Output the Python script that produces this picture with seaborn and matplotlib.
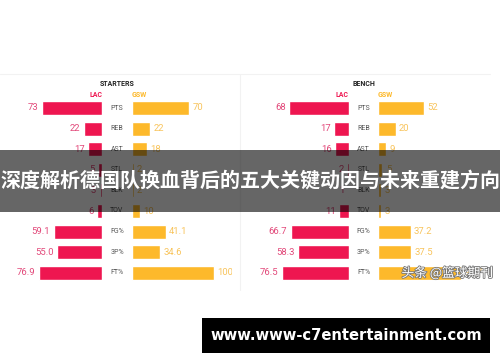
import numpy as np
import pandas as pd
import seaborn as sns
import matplotlib.pyplot as plt
import matplotlib.transforms as mtransforms
import matplotlib.patheffects as pe
from matplotlib.patches import Rectangle

# datos
stats = ["PTS", "REB", "AST", "STL", "BLK", "TOV", "FG%", "3P%", "FT%"]
starters_lac = [73, 22, 17, 5, 3, 6, 59.1, 55.0, 76.9]
starters_gsw = [70, 22, 18, 2, 2, 10, 41.1, 34.6, 100.0]
bench_lac = [68, 17, 16, 2, 1, 11, 66.7, 58.3, 76.5]
bench_gsw = [52, 20, 9, 5, 3, 3, 37.2, 37.5, 94.7]
pct_stats = ["FG%", "3P%", "FT%"]

LAC_BAR = "#EE1650"
GSW_BAR = "#FDB92B"
LAC_TXT = "#E2497A"
GSW_TXT = "#F8C45C"

sns.set_style("white")
plt.rcParams["font.family"] = ["Roboto", "DejaVu Sans"]

W, H = 500, 362
fig = plt.figure(figsize=(5, 3.62), dpi=100)
fig.patch.set_facecolor("white")


def fx(px):
    return px / W


def fy(py):
    return 1 - py / H


row_top, row_bot = 97.7, 283.1
ax_b = fy(row_bot)
ax_h = (row_bot - row_top) / H


def fmt(stat, v):
    return f"{v:.1f}" if stat in pct_stats else f"{v:.0f}"


def panel(title, lac, gsw, lac_l, lac_r, gsw_l, gsw_r, scale):
    df = pd.DataFrame({"stat": stats, "LAC": lac, "GSW": gsw})
    ax1 = fig.add_axes([fx(lac_l), ax_b, fx(lac_r - lac_l), ax_h])
    ax2 = fig.add_axes([fx(gsw_l), ax_b, fx(gsw_r - gsw_l), ax_h])
    sns.barplot(data=df, x="LAC", y="stat", color=LAC_BAR, width=0.68,
                saturation=1, ax=ax1)
    sns.barplot(data=df, x="GSW", y="stat", color=GSW_BAR, width=0.68,
                saturation=1, ax=ax2)
    ax1.set_xlim((lac_r - lac_l) / scale, 0)
    ax2.set_xlim(0, (gsw_r - gsw_l) / scale)
    for ax, vals, col in [(ax1, lac, LAC_TXT), (ax2, gsw, GSW_TXT)]:
        ax.set_ylim(len(stats) - 0.5, -0.5)
        ax.set_axis_off()
        labs = [fmt(s, v) for s, v in zip(stats, vals)]
        txts = ax.bar_label(ax.containers[0], labels=labs, padding=2.5,
                            color=col, fontsize=6.8)
        for t in txts:
            t.set_clip_on(True)
            t.set_clip_box(ax.bbox)
    # etiquetas centrales
    cx = (lac_r + gsw_l) / 2
    tr = mtransforms.blended_transform_factory(fig.transFigure, ax1.transData)
    for i, s in enumerate(stats):
        ax1.text(fx(cx), i, s, transform=tr, ha="center", va="center",
                 fontsize=5, color="#555555", clip_on=False)
    fig.text(fx(cx), fy(84), title, ha="center", va="center",
             fontsize=5, fontweight="bold", color="#222222")
    fig.text(fx(lac_r), fy(95), "LAC", ha="right", va="center",
             fontsize=5, fontweight="bold", color=LAC_BAR)
    fig.text(fx(gsw_l), fy(95), "GSW", ha="left", va="center",
             fontsize=5, fontweight="bold", color=GSW_BAR)


panel("STARTERS", starters_lac, starters_gsw, 10, 102, 132, 232, 0.82)
panel("BENCH", bench_lac, bench_gsw, 250, 349, 378, 490, 0.876)

# líneas tenues de los paneles
fig.add_artist(plt.Line2D([0, fx(490)], [fy(74), fy(74)], color="#f2f2f2",
                          lw=0.8, transform=fig.transFigure))
fig.add_artist(plt.Line2D([fx(240), fx(240)], [fy(74), fy(290)],
                          color="#f2f2f2", lw=0.8, transform=fig.transFigure))

# franja con título
fig.add_artist(Rectangle((0, fy(212)), 1, (212 - 150) / H,
                         transform=fig.transFigure, facecolor="black",
                         alpha=0.6, edgecolor="none", zorder=5))
fig.text(0.5, fy(181), "深度解析德国队换血背后的五大关键动因与未来重建方向",
         ha="center", va="center", fontsize=14.4, fontweight="bold",
         color="white", family=["Noto Sans CJK SC", "DejaVu Sans"], zorder=6)

# marca de agua
fig.text(fx(493), fy(273), "头条 @篮球期刊", ha="right", va="center",
         fontsize=9.2, color="white", family=["Noto Sans CJK SC", "DejaVu Sans"],
         zorder=6,
         path_effects=[pe.withStroke(linewidth=1.2, foreground="#777777")])

# caja negra inferior
fig.add_artist(Rectangle((fx(202), fy(353)), fx(490 - 202), (353 - 318) / H,
                         transform=fig.transFigure, facecolor="black",
                         edgecolor="none", zorder=5))
fig.text(fx(346), fy(335.5), "www.www-c7entertainment.com", ha="center",
         va="center", fontsize=10.6, fontweight="bold", color="white",
         family="DejaVu Sans", zorder=6)

plt.savefig("out.png", dpi=100)
